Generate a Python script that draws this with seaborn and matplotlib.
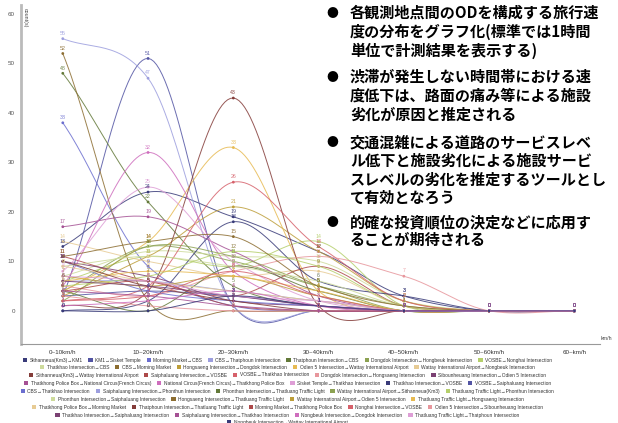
import numpy as np
import pandas as pd
import seaborn as sns
import matplotlib
matplotlib.use("Agg")
import matplotlib.pyplot as plt
from matplotlib.patches import Patch

# ---------------- data ----------------
bands = ["0~10km/h", "10~20km/h", "20~30km/h", "30~40km/h", "40~50km/h", "50~60km/h", "60~km/h"]

od_names = [
    "Sithanneua(Km3)→KM1", "KM1→Sisket Temple", "Morning Market→CBS", "CBS→Thatphoun Intersection",
    "Thatphoun Intersection→CBS", "Dongdok Intersection→Hongbeuk Intersection", "VOSBE→Nonghai Intersection",
    "Thatkhao Intersection→CBS", "CBS→Morning Market", "Hongsaeng Intersection→Dongdok Intersection",
    "Odien 5 Intersection→Wattay International Airport", "Wattay International Airport→Nongbeuk Intersection",
    "Sithanneua(Km3)→Wattay International Airport", "Saiphaluang Intersection→VOSBE", "VOSBE→Thatkhao Intersection",
    "Dongdok Intersection→Hongsaeng Intersection", "Sibounheuang Intersection→Odien 5 Intersection",
    "Thatkhong Police Box→National Circus(French Circus)", "National Circus(French Circus)→Thatkhong Police Box",
    "Sisket Temple→Thatkhao Intersection", "Thatkhao Intersection→VOSBE", "VOSBE→Saiphaluang Intersection",
    "CBS→Thatkhao Intersection", "Saiphaluang Intersection→Phonthun Intersection",
    "Phonthun Intersection→Thatluang Traffic Light", "Wattay International Airport→Sithanneua(Km3)",
    "Thatluang Traffic Light→Phonthun Intersection",
    "Phonthun Intersection→Saiphaluang Intersection", "Hongsaeng Intersection→Thatluang Traffic Light",
    "Wattay International Airport→Odien 5 Intersection", "Thatluang Traffic Light→Hongsaeng Intersection",
    "Thatkhong Police Box→Morning Market", "Thatphoun Intersection→Thatluang Traffic Light",
    "Morning Market→Thatkhong Police Box", "Nonghai Intersection→VOSBE",
    "Odien 5 Intersection→Sibounheuang Intersection",
    "Thatkhao Intersection→Saiphaluang Intersection", "Saiphaluang Intersection→Thatkhao Intersection",
    "Nongbeuk Intersection→Dongdok Intersection", "Thatluang Traffic Light→Thatphoun Intersection",
    "Nongbeuk Intersection→Wattay International Airport",
]

# counts per speed band (one value per OD pair, same order as od_names)
count_0_10 = [13, 3, 38, 55, 48, 4, 6, 7, 52, 3, 4, 14, 1, 11, 2, 5, 10, 17, 5, 8, 0,
              3, 10, 6, 4, 2, 5, 9, 11, 7, 6, 9, 10, 4, 2, 3, 6, 4, 1, 7, 0]
count_10_20 = [24, 51, 9, 47, 22, 13, 11, 12, 2, 11, 14, 10, 4, 6, 5, 3, 7, 19, 32, 25, 2,
               4, 4, 6, 0, 13, 7, 11, 14, 5, 8, 6, 5, 6, 3, 1, 5, 3, 2, 6, 0]
count_20_30 = [19, 1, 1, 1, 5, 10, 9, 11, 0, 21, 33, 7, 43, 3, 26, 8, 2, 12, 8, 10, 18,
               3, 2, 4, 9, 11, 12, 9, 15, 7, 7, 4, 2, 1, 8, 0, 3, 1, 4, 3, 3]
count_30_40 = [12, 0, 0, 0, 1, 5, 14, 10, 0, 12, 4, 8, 1, 9, 13, 11, 1, 3, 1, 2, 6,
               1, 1, 2, 4, 5, 9, 6, 5, 3, 4, 2, 0, 0, 3, 0, 1, 0, 1, 2, 1]
count_40_50 = [3, 0, 0, 0, 0, 1, 1, 2, 0, 2, 0, 1, 0, 1, 2, 7, 0, 0, 0, 0, 3,
               0, 0, 0, 0, 0, 1, 1, 1, 0, 0, 0, 0, 0, 0, 0, 0, 0, 0, 0, 0]
count_50_60 = [0, 0, 0, 0, 0, 0, 0, 0, 0, 0, 0, 0, 0, 0, 0, 0, 0, 0, 0, 0, 0,
               0, 0, 0, 0, 0, 0, 0, 0, 0, 0, 0, 0, 0, 0, 0, 0, 0, 0, 0, 0]
count_60_up = [0, 0, 0, 0, 0, 0, 0, 0, 0, 0, 0, 0, 0, 0, 0, 0, 0, 0, 0, 0, 0,
               0, 0, 0, 0, 0, 0, 0, 0, 0, 0, 0, 0, 0, 0, 0, 0, 0, 0, 0, 0]

legend_rows = [7, 5, 5, 5, 5, 4, 5, 4, 1]   # entries per legend row

notes = [
    ["各観測地点間のODを構成する旅行速", "度の分布をグラフ化(標準では1時間", "単位で計測結果を表示する)"],
    ["渋滞が発生しない時間帯における速", "度低下は、路面の痛み等による施設", "劣化が原因と推定される"],
    ["交通混雑による道路のサービスレベ", "ル低下と施設劣化による施設サービ",
     "スレベルの劣化を推定するツールとし", "て有効となろう"],
    ["的確な投資順位の決定などに応用す", "ることが期待される"],
]

# ---------------- build long table ----------------
band_cols = [count_0_10, count_10_20, count_20_30, count_30_40, count_40_50, count_50_60, count_60_up]
rows = []
for b, col in enumerate(band_cols):
    for s, name in enumerate(od_names):
        rows.append({"od": name, "band": bands[b], "pos": b, "count": col[s]})
df = pd.DataFrame(rows)

sns.set_theme(style="white")
plt.rcParams["font.family"] = ["Liberation Sans", "DejaVu Sans"]

base = sns.color_palette("tab20b", 20)
colors = [base[i % 20] for i in range(len(od_names))]
pal = dict(zip(od_names, colors))

W, H = 618, 423
fig = plt.figure(figsize=(W / 100, H / 100), dpi=100)
ax = fig.add_axes([21 / W, 79 / H, 579 / W, 339 / H])


def smooth(xs, ys, n=30, k=0.85):
    xs = np.asarray(xs, float)
    ys = np.asarray(ys, float)
    m = np.zeros_like(ys)
    m[1:-1] = k * (ys[2:] - ys[:-2]) / 2.0
    m[0] = k * (ys[1] - ys[0])
    m[-1] = k * (ys[-1] - ys[-2])
    px, py = [], []
    for i in range(len(xs) - 1):
        t = np.linspace(0, 1, n, endpoint=(i == len(xs) - 2))
        h00 = 2 * t**3 - 3 * t**2 + 1
        h10 = t**3 - 2 * t**2 + t
        h01 = -2 * t**3 + 3 * t**2
        h11 = t**3 - t**2
        px.append(xs[i] + t * (xs[i + 1] - xs[i]))
        py.append(h00 * ys[i] + h10 * m[i] + h01 * ys[i + 1] + h11 * m[i + 1])
    return np.concatenate(px), np.concatenate(py)


for name in od_names:
    sub = df[df["od"] == name].sort_values("pos")
    sx, sy = smooth(sub["pos"].values, sub["count"].values)
    ax.plot(sx, sy, color=pal[name], lw=0.7, alpha=0.85, zorder=2)

sns.scatterplot(data=df, x="pos", y="count", hue="od", palette=pal, s=4,
                edgecolor="none", legend=False, ax=ax, zorder=3)

for _, r in df.iterrows():
    ax.annotate(str(r["count"]), (r["pos"], r["count"]), xytext=(0, 2),
                textcoords="offset points", ha="center", va="bottom",
                fontsize=3.8, color=pal[r["od"]], alpha=0.9, zorder=4)

ax.set_xlim(-0.49, 6.3)
ax.set_ylim(-6.7, 61.8)
ax.set_xticks(np.arange(0.5, 6.0, 1.0))
ax.set_xticklabels([])
ax.set_xticks(range(len(bands)), labels=bands, minor=True)
ax.tick_params(axis="x", which="major", direction="inout", length=5, width=0.6, color="#888888")
ax.tick_params(axis="x", which="minor", length=0, labelsize=4.5, pad=4, labelcolor="#333333")
ax.set_yticks([0, 10, 20, 30, 40, 50, 60])
ax.tick_params(axis="y", direction="out", length=3, width=0.6, color="#999999",
               labelsize=4.5, pad=1.5, labelcolor="#555555")
ax.set_xlabel("")
ax.set_ylabel("")
for sp in ["top", "right"]:
    ax.spines[sp].set_visible(False)
ax.spines["left"].set_color("#bbbbbb")
ax.spines["left"].set_linewidth(2.0)
ax.spines["bottom"].set_color("#999999")
ax.spines["bottom"].set_linewidth(0.8)
ax.patch.set_alpha(0)

fig.text(25 / W, 1 - 18 / H, "count(s)", rotation=-90, fontsize=3.8, ha="center", va="center", color="#444444")
fig.text(606 / W, 1 - 338 / H, "km/h", fontsize=3.8, ha="center", va="center", color="#444444")

# legend rows
row_y = [360, 367.5, 375, 383, 391, 399, 407, 415, 422]
start = 0
for k, cnt in enumerate(legend_rows):
    names = od_names[start:start + cnt]
    handles = [Patch(facecolor=pal[n], edgecolor="none", label=n) for n in names]
    fig.legend(handles=handles, loc="center", bbox_to_anchor=(0.465, 1 - row_y[k] / H),
               ncol=cnt, frameon=False, fontsize=3.5, handlelength=0.9, handleheight=0.9,
               handletextpad=0.5, columnspacing=1.2, borderpad=0, borderaxespad=0,
               labelcolor="#333333")
    start += cnt

# text block
jp = ["Noto Sans CJK JP", "DejaVu Sans"]
line_y = [[13, 32, 51], [77, 96, 115], [142, 161, 180, 198], [222, 240]]
for para, ys in zip(notes, line_y):
    fig.text(332 / W, 1 - ys[0] / H, "●", family=jp, fontsize=8.5, ha="center", va="center", color="black")
    for txt, yy in zip(para, ys):
        fig.text(350 / W, 1 - yy / H, txt, family=jp, fontsize=10.9, fontweight="bold",
                 ha="left", va="center", color="black")

fig.savefig("out.png", dpi=100)
